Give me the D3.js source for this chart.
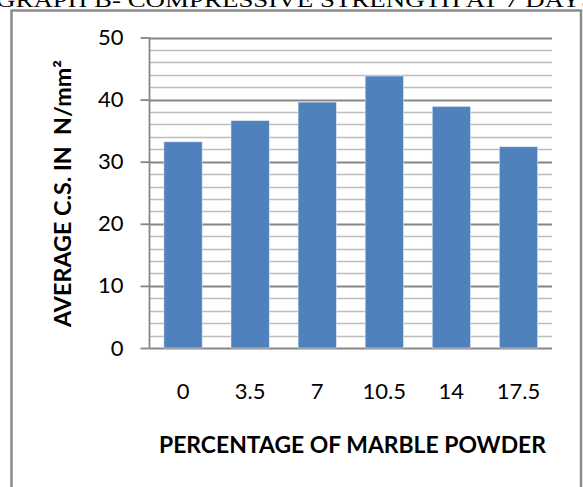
<!DOCTYPE html>
<html>
<head>
<meta charset="utf-8">
<script src="https://cdn.jsdelivr.net/npm/d3@7"></script>
<style>
  html, body { margin: 0; padding: 0; background: #fff; }
  svg { display: block; }
</style>
</head>
<body>
<svg id="chart" width="583" height="487"></svg>
<script>
const categories = ["0", "3.5", "7", "10.5", "14", "17.5"];
const values = [33.2, 36.6, 39.6, 43.8, 38.9, 32.4];
const yTicks = [0, 10, 20, 30, 40, 50];
const yMinorTicks = [2, 4, 6, 8, 12, 14, 16, 18, 22, 24, 26, 28, 32, 34, 36, 38, 42, 44, 46, 48];
const pageTitle = "GRAPH B- COMPRESSIVE STRENGTH AT 7 DAYS";
const xTitle = "PERCENTAGE OF MARBLE POWDER";
const yTitle = "AVERAGE C.S. IN  N/mm\u00B2";

(function () {
const svg = d3.select("#chart");
const pLeft = 149.5, pRight = 552, pTop = 37.5, pBottom = 348;

const y = d3.scaleLinear().domain([0, 50]).range([pBottom, pTop]);
const x = d3.scaleBand().domain(categories).range([pLeft, pRight])
  .paddingInner(0.43).paddingOuter(0.215);

// page title (cut off at top, as in the source page)
svg.append("text")
  .attr("x", -4).attr("y", 7)
  .attr("font-family", "Liberation Serif, serif")
  .attr("font-size", 22)
  .attr("textLength", 600).attr("lengthAdjust", "spacingAndGlyphs")
  .attr("fill", "#000")
  .text(pageTitle);

// frame
svg.append("path")
  .attr("d", `M11.5,495 L11.5,10.5 L581,10.5 L581,495`)
  .attr("fill", "none").attr("stroke", "#8c8c8c").attr("stroke-width", 2.5);

// minor gridlines
svg.append("g").selectAll("line").data(yMinorTicks).join("line")
  .attr("x1", pLeft).attr("x2", pRight)
  .attr("y1", d => Math.round(y(d)) + 0.5).attr("y2", d => Math.round(y(d)) + 0.5)
  .attr("stroke", "#bdbdbd").attr("stroke-width", 1.5);

// major gridlines
svg.append("g").selectAll("line").data(yTicks).join("line")
  .attr("x1", pLeft).attr("x2", pRight)
  .attr("y1", d => Math.round(y(d)) + 0.5).attr("y2", d => Math.round(y(d)) + 0.5)
  .attr("stroke", "#868686").attr("stroke-width", 1.8);

// bars
svg.append("g").selectAll("rect").data(values).join("rect")
  .attr("x", (d, i) => x(categories[i]))
  .attr("width", x.bandwidth())
  .attr("y", d => y(d))
  .attr("height", d => y(0) - y(d))
  .attr("fill", "#4f81bd")
  .attr("stroke", "#dbe5f1").attr("stroke-width", 0.6);

// y axis
const yAxis = svg.append("g")
  .attr("transform", `translate(${pLeft},0)`)
  .call(d3.axisLeft(y).tickValues(yTicks).tickSize(9).tickPadding(17).tickFormat(d3.format("d")));
yAxis.select(".domain").attr("stroke", "#868686").attr("stroke-width", 1.8).attr("d", `M0,${pTop}V${pBottom}`);
yAxis.selectAll(".tick line").attr("stroke", "#868686").attr("stroke-width", 1.8);
yAxis.selectAll(".tick text")
  .attr("font-family", "Lato, sans-serif").attr("font-size", 22).attr("fill", "#000");

// x axis
const xAxis = svg.append("g")
  .attr("transform", `translate(0,${pBottom})`)
  .call(d3.axisBottom(x).tickSize(0).tickPadding(35));
xAxis.select(".domain").remove();
xAxis.selectAll(".tick text")
  .attr("font-family", "Lato, sans-serif").attr("font-size", 22).attr("fill", "#000");

// x title
svg.append("text")
  .attr("x", (159 + 546) / 2).attr("y", 453)
  .attr("text-anchor", "middle")
  .attr("font-family", "Lato, sans-serif").attr("font-weight", "bold")
  .attr("font-size", 22)
  .attr("textLength", 387).attr("lengthAdjust", "spacingAndGlyphs")
  .attr("fill", "#000")
  .text(xTitle);

// y title
svg.append("text")
  .attr("transform", `translate(71,193.5) rotate(-90)`)
  .attr("text-anchor", "middle")
  .style("white-space", "pre")
  .attr("font-family", "Lato, sans-serif").attr("font-weight", "bold")
  .attr("font-size", 22)
  .attr("textLength", 267).attr("lengthAdjust", "spacingAndGlyphs")
  .attr("fill", "#000")
  .text(yTitle);
})();
</script>
</body>
</html>
